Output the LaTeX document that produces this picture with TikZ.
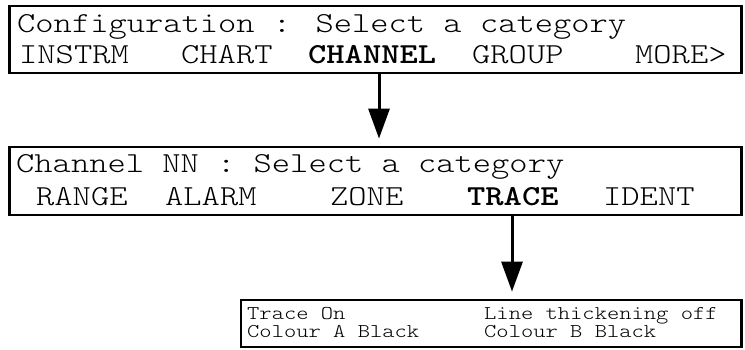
\documentclass[tikz,border=0pt]{standalone}
\usepackage{graphicx}
\usepackage{tikz}
\usetikzlibrary{arrows.meta}

\tikzset{
    screen/.style={draw, line width=2.8pt, inner sep=0pt},
    bigtxt/.style={inner sep=0pt, anchor=base west, font=\fontsize{29}{34}\selectfont\ttfamily\fontseries{l}\selectfont},
    smalltxt/.style={inner sep=0pt, anchor=base west, font=\fontsize{19.5}{23}\selectfont\ttfamily\fontseries{l}\selectfont},
    flow/.style={line width=3pt, -{Triangle[length=30pt, width=21pt]}, shorten >=7pt}
}
\newcommand{\wide}[1]{\scalebox{1.2}[1]{#1}}

\begin{document}
\begin{tikzpicture}[x=1pt, y=-1pt]
                \useasboundingbox (0,0) rectangle (745,349);
                % screens
                \node[screen, minimum width=732pt, minimum height=67pt] (cfg) at (375.5,39.5) {};
                \node[screen, minimum width=732pt, minimum height=68pt] (chn) at (375.5,181) {};
                \node[screen, minimum width=500.5pt, minimum height=47pt] (trc) at (491.25,323.5) {};
                % configuration screen
                \node[bigtxt] (cfgtitle) at (17,32) {\wide{Configuration : Select a category}};
                \node[bigtxt] (instrm) at (19,63) {\wide{INSTRM}};
                \node[bigtxt] (chart) at (181,63) {\wide{CHART}};
                \node[bigtxt] (channel) at (308,63) {\wide{\fontseries{b}\selectfont CHANNEL}};
                \node[bigtxt] (group) at (472,63) {\wide{GROUP}};
                \node[bigtxt] (more) at (635,63) {\wide{MORE>}};
                % channel screen
                \node[bigtxt] (chntitle) at (16,172) {\wide{Channel NN : Select a category}};
                \node[bigtxt] (range) at (36,205) {\wide{RANGE}};
                \node[bigtxt] (alarm) at (165,205) {\wide{ALARM}};
                \node[bigtxt] (zone) at (330,205) {\wide{ZONE}};
                \node[bigtxt] (trace) at (467,205) {\wide{\fontseries{b}\selectfont TRACE}};
                \node[bigtxt] (ident) at (603,205) {\wide{IDENT}};
                % trace screen
                \node[smalltxt] (traceon) at (247,319) {\wide{Trace On}};
                \node[smalltxt] (colA) at (247,337) {\wide{Colour A Black}};
                \node[smalltxt] (thick) at (484,319) {\wide{Line thickening off}};
                \node[smalltxt] (colB) at (484,337) {\wide{Colour B Black}};
                % arrows
                \draw[flow] ([xshift=3.5pt]cfg.south) -- ([xshift=3.5pt]chn.north);
                \draw[flow] ([xshift=136.5pt]chn.south) -- ([xshift=20.75pt]trc.north);
\end{tikzpicture}
\end{document}
